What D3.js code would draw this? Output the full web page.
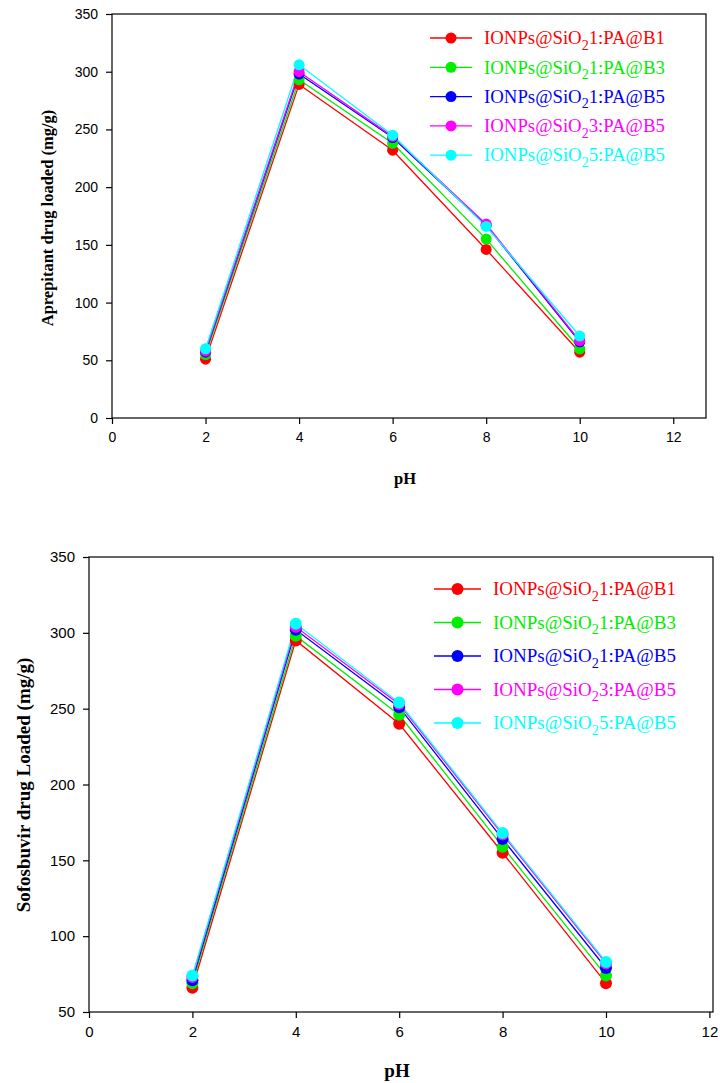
<!DOCTYPE html>
<html><head><meta charset="utf-8">
<script src="https://cdn.jsdelivr.net/npm/d3@7"></script>
<style>body{margin:0;background:#fff}</style>
</head><body>
<svg id="c" width="720" height="1083"></svg>
<script>
const pH = [2, 4, 6, 8, 10];
const seriesNames = ["IONPs@SiO|2|1:PA@B1","IONPs@SiO|2|1:PA@B3","IONPs@SiO|2|1:PA@B5","IONPs@SiO|2|3:PA@B5","IONPs@SiO|2|5:PA@B5"];
const colors = ["#ff0000","#00ee00","#0000ff","#ff00ff","#00ffff"];
const aprepitant = [
  [51, 289, 232, 146, 57],
  [55, 293, 238, 155, 60],
  [57, 298, 243, 167, 66],
  [58, 300, 244, 168, 67],
  [60, 306, 245, 166, 71]
];
const sofosbuvir = [
  [66, 295, 240, 155, 69],
  [69, 298, 246, 159, 74],
  [71, 302, 251, 164, 79],
  [73, 304, 253, 167, 82],
  [74, 306, 254, 168, 83]
];
const xTicks = [0,2,4,6,8,10,12];
const yTicksTop = [0,50,100,150,200,250,300,350];
const yTicksBot = [50,100,150,200,250,300,350];

const svg = d3.select("#c");

function panel(o){
  const g = svg.append("g");
  const x = d3.scaleLinear().domain([0, o.xmax]).range([o.l, o.r]);
  const y = d3.scaleLinear().domain(o.ydom).range([o.b, o.t]);
  g.append("rect").attr("x",o.l).attr("y",o.t).attr("width",o.r-o.l).attr("height",o.b-o.t)
    .attr("fill","none").attr("stroke","#000").attr("stroke-width",1.2);
  const xa = g.append("g").attr("transform",`translate(0,${o.b})`)
    .call(d3.axisBottom(x).tickValues(xTicks).tickSize(6).tickPadding(8).tickFormat(d3.format("d")));
  const ya = g.append("g").attr("transform",`translate(${o.l},0)`)
    .call(d3.axisLeft(y).tickValues(o.yticks).tickSize(6).tickPadding(8).tickFormat(d3.format("d")));
  [xa,ya].forEach(a=>{
    a.select(".domain").remove();
    a.selectAll("line").attr("stroke","#000").attr("stroke-width",1.2);
    a.selectAll("text").attr("font-family","Liberation Sans, Arial, sans-serif").attr("font-size",o.tfs).attr("fill","#000");
  });
  const line = d3.line().x((d,i)=>x(pH[i])).y(d=>y(d));
  o.data.forEach((s,k)=>{
    g.append("path").attr("d",line(s)).attr("fill","none").attr("stroke",colors[k]).attr("stroke-width",1.3);
  });
  o.data.forEach((s,k)=>{
    g.selectAll(null).data(s).enter().append("circle")
      .attr("cx",(d,i)=>x(pH[i])).attr("cy",d=>y(d)).attr("r",o.mr).attr("fill",colors[k]);
  });
  g.append("text").attr("x",(o.l+o.r)/2 - 4).attr("y",o.xty).attr("text-anchor","middle")
    .attr("font-family","Liberation Serif, Times New Roman, serif").attr("font-weight","bold").attr("font-size",o.afs).text("pH");
  g.append("text").attr("transform",`translate(${o.ytx},${o.ytc}) rotate(-90)`).attr("text-anchor","middle")
    .attr("font-family","Liberation Serif, Times New Roman, serif").attr("font-weight","bold").attr("font-size",o.afs).text(o.ytitle);
  seriesNames.forEach((nm,k)=>{
    const ly = o.ly0 + k*o.ldy;
    g.append("line").attr("x1",o.lx0).attr("x2",o.lx1).attr("y1",ly).attr("y2",ly).attr("stroke",colors[k]).attr("stroke-width",1.3);
    g.append("circle").attr("cx",(o.lx0+o.lx1)/2).attr("cy",ly).attr("r",o.mr).attr("fill",colors[k]);
    const parts = nm.split("|");
    const t = g.append("text").attr("x",o.ltx).attr("y",ly+o.lfs*0.33).attr("fill",colors[k])
      .attr("font-family","Liberation Serif, Times New Roman, serif").attr("font-size",o.lfs);
    t.append("tspan").text(parts[0]);
    t.append("tspan").attr("dy",o.lfs*0.3).attr("font-size",o.lfs*0.75).text(parts[1]);
    t.append("tspan").attr("dy",-o.lfs*0.3).text(parts[2]);
  });
}

panel({l:112, r:706, t:14, b:418, xmax:12.7, ydom:[0,350], yticks:yTicksTop, data:aprepitant,
  tfs:14, afs:16.5, xty:484, ytx:53, ytc:218, ytitle:"Aprepitant drug loaded (mg/g)", mr:5.5,
  lx0:430, lx1:472, ltx:484, ly0:38, ldy:29.3, lfs:18.8});
panel({l:89, r:713, t:557, b:1012, xmax:12.07, ydom:[50,350], yticks:yTicksBot, data:sofosbuvir,
  tfs:15, afs:19, xty:1077, ytx:30, ytc:785, ytitle:"Sofosbuvir drug Loaded (mg/g)", mr:6,
  lx0:434, lx1:481, ltx:493, ly0:589, ldy:33.5, lfs:19});
</script>
</body></html>
